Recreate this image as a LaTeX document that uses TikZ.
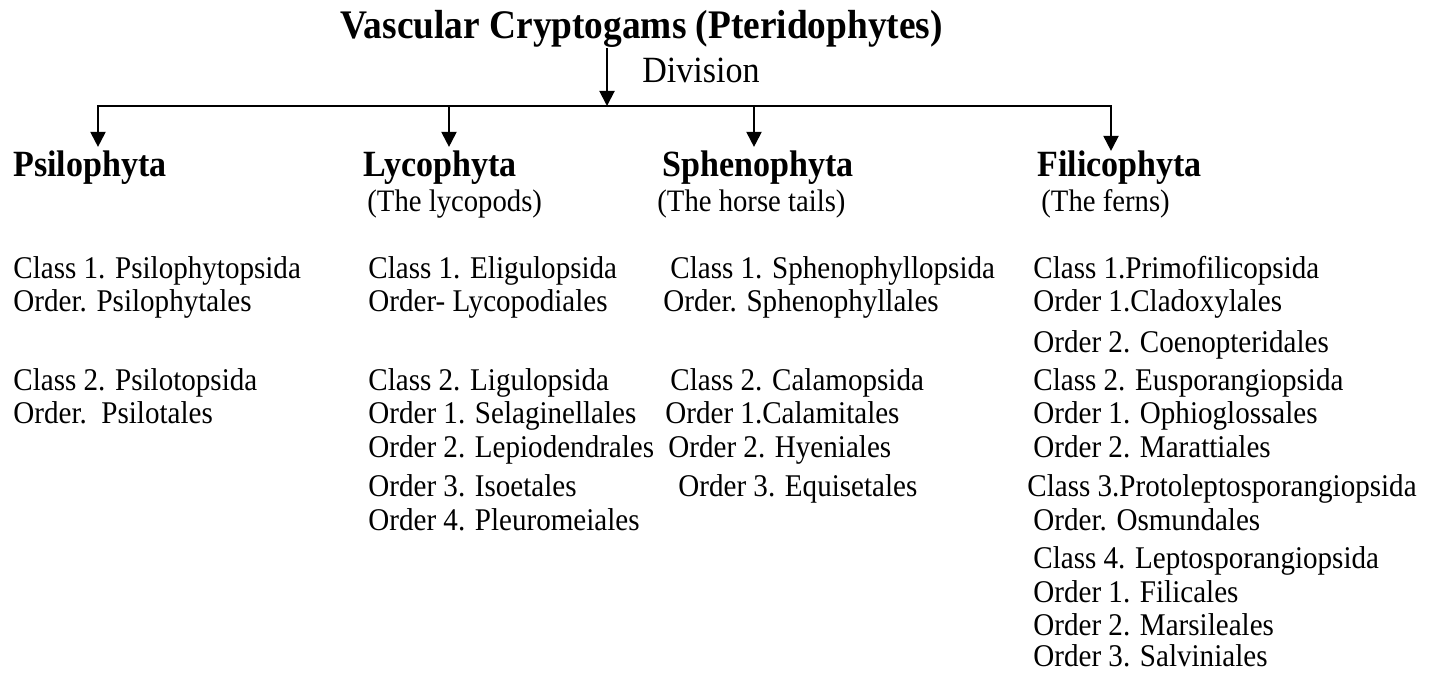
\documentclass[tikz,border=0pt]{standalone}
\usepackage{fontspec}
\setmainfont{Liberation Serif}[FakeStretch=0.92]
\usetikzlibrary{positioning,arrows.meta}

\begin{document}
\begin{tikzpicture}[x=0.5pt, y=-0.5pt,
				heading/.style={anchor=base west, inner sep=0pt, font=\fontsize{20.3}{23}\selectfont\bfseries},
				division/.style={anchor=base west, inner sep=0pt, font=\fontsize{18.5}{21}\selectfont\bfseries},
				note/.style={anchor=base west, inner sep=0pt, font=\fontsize{18.5}{21}\selectfont},
				common/.style={anchor=base west, inner sep=0pt, font=\fontsize{15.6}{18}\selectfont},
				item/.style={anchor=base west, inner sep=0pt, font=\fontsize{15.8}{18}\selectfont},
				arr/.style={line width=1pt, -{Triangle[length=7.5pt, width=7.5pt]}}
			]
			\useasboundingbox (0,0) rectangle (1438,673);
			\node[heading] (title) at (340,39) {Vascular Cryptogams (Pteridophytes)};
			\node[note] (divlabel) at (642,83) {Division};
			% divisions
			\node[division] (psilo) at (13,177) {Psilophyta};
			\node[division] (lyco) at (363,177) {Lycophyta};
			\node[division] (spheno) at (662,177) {Sphenophyta};
			\node[division] (fili) at (1037,177) {Filicophyta};
			\node[common] (lycocommon) at (367,212) {(The lycopods)};
			\node[common] (sphenocommon) at (657,212) {(The horse tails)};
			\node[common] (filicommon) at (1041,212) {(The ferns)};
			% Psilophyta
			\node[item] (psiloA) at (13,279) {Class 1. Psilophytopsida};
			\node[item] (psiloB) at (13,312) {Order. Psilophytales};
			\node[item] (psiloC) at (13,390) {Class 2. Psilotopsida};
			\node[item] (psiloD) at (13,423) {Order.\ \ Psilotales};
			% Lycophyta
			\node[item] (lycoA) at (368,279) {Class 1. Eligulopsida};
			\node[item] (lycoB) at (368,312) {Order- Lycopodiales};
			\node[item] (lycoC) at (368,390) {Class 2. Ligulopsida};
			\node[item] (lycoD) at (368,423) {Order 1. Selaginellales};
			\node[item] (lycoE) at (368,457) {Order 2. Lepiodendrales};
			\node[item] (lycoF) at (368,496) {Order 3. Isoetales};
			\node[item] (lycoG) at (368,530) {Order 4. Pleuromeiales};
			% Sphenophyta
			\node[item] (sphenoA) at (670,279) {Class 1. Sphenophyllopsida};
			\node[item] (sphenoB) at (663,312) {Order. Sphenophyllales};
			\node[item] (sphenoC) at (670,390) {Class 2. Calamopsida};
			\node[item] (sphenoD) at (665,423) {Order 1.Calamitales};
			\node[item] (sphenoE) at (668,457) {Order 2. Hyeniales};
			\node[item] (sphenoF) at (678,496) {Order 3. Equisetales};
			% Filicophyta
			\node[item] (filiA) at (1033,279) {Class 1.Primofilicopsida};
			\node[item] (filiB) at (1033,312) {Order 1.Cladoxylales};
			\node[item] (filiC) at (1033,352) {Order 2. Coenopteridales};
			\node[item] (filiD) at (1033,390) {Class 2. Eusporangiopsida};
			\node[item] (filiE) at (1033,423) {Order 1. Ophioglossales};
			\node[item] (filiF) at (1033,457) {Order 2. Marattiales};
			\node[item] (filiG) at (1027,496) {Class 3.Protoleptosporangiopsida};
			\node[item] (filiH) at (1033,530) {Order. Osmundales};
			\node[item] (filiI) at (1033,568) {Class 4. Leptosporangiopsida};
			\node[item] (filiJ) at (1033,602) {Order 1. Filicales};
			\node[item] (filiK) at (1033,635) {Order 2. Marsileales};
			\node[item] (filiL) at (1033,666) {Order 3. Salviniales};
			% bar
			\coordinate (hub) at (607,106);
			\coordinate (barL) at (98,106);
			\coordinate (barLyco) at (449,106);
			\coordinate (barSpheno) at (754,106);
			\coordinate (barR) at (1111,106);
			\begin{scope}[arr]
			\draw (title.south -| hub) -- (hub);
			\draw[shorten >=2pt] (hub) -- (barL) -- (barL |- psilo.north);
			\draw (hub) -- (barR) -- (barR |- fili.north);
			\draw[shorten >=2pt] (barLyco) -- (barLyco |- lyco.north);
			\draw[shorten >=2pt] (barSpheno) -- (barSpheno |- spheno.north);
			\end{scope}
			\end{tikzpicture}
\end{document}
